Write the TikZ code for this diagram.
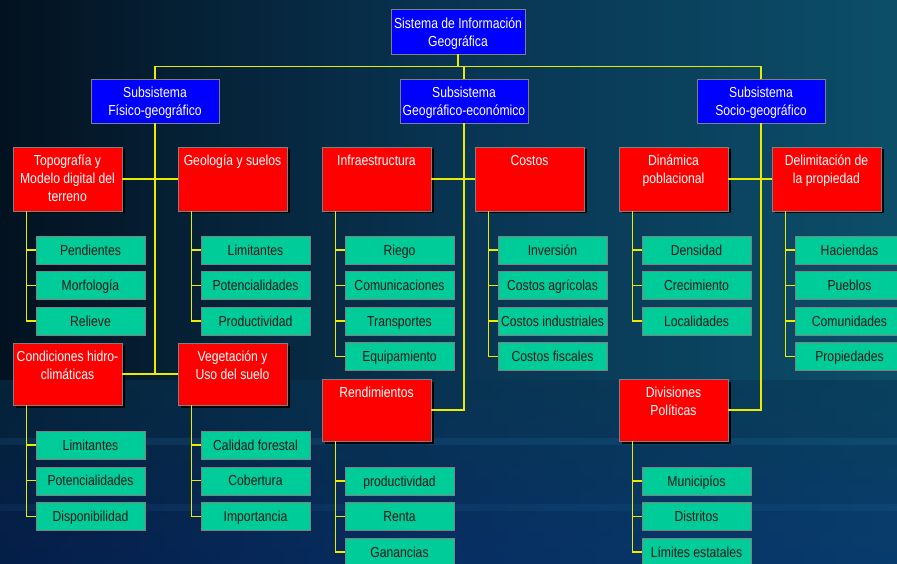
\documentclass[tikz,border=0pt]{standalone}
\usepackage{fontspec}
\setmainfont{Liberation Sans}[FakeStretch=0.84]
\usetikzlibrary{shadows}
\definecolor{sigblue}{RGB}{0,0,255}
\definecolor{sigred}{RGB}{255,0,0}
\definecolor{siggreen}{RGB}{0,204,153}
\definecolor{sigline}{RGB}{235,235,0}
\definecolor{bgdark}{RGB}{3,18,32}
\definecolor{bgmid}{RGB}{8,52,82}
\definecolor{bgteal}{RGB}{12,78,104}
\definecolor{glow}{RGB}{70,170,220}
\newcommand{\redtext}[2][52pt]{\parbox[t][#1][t]{105pt}{\centering\strut #2}}
\newcommand{\systext}[2][126pt]{\parbox[t][38pt][t]{#1}{\centering\rule{0pt}{16pt}#2}}

\begin{document}
\begin{tikzpicture}[
  x=1pt, y=-1pt,
  font=\fontsize{14.5}{18}\selectfont,
  sysbox/.style={draw=gray, fill=sigblue, text=white, minimum width=128pt, minimum height=44pt, inner xsep=1pt, inner ysep=3pt},
  topicbox/.style={draw=gray, fill=sigred, text=white, inner xsep=2pt, inner ysep=6pt, minimum width=109pt, drop shadow={shadow xshift=2.5pt, shadow yshift=-2.5pt, fill=black, opacity=1}},
  leafbox/.style={draw=gray, fill=siggreen, text=black!90, minimum width=109pt, minimum height=28pt, inner sep=1pt, text height=12.5pt, text depth=2pt},
  link/.style={draw=sigline, line width=1.2pt}
]
  % background
  \useasboundingbox (0,0) rectangle (897,564);
  \shade[left color=bgdark, right color=bgteal, middle color=bgmid] (0,0) rectangle (897,564);
  \shade[top color=bgmid, bottom color=bgmid!80!blue, opacity=0.5] (0,380) rectangle (897,564);
  \fill[glow, opacity=0.1] (0,438) rectangle (897,445);
  \fill[glow, opacity=0.07] (0,504) rectangle (897,511);

  % levels 0 and 1
  \node[sysbox, minimum width=134pt, minimum height=45pt] (sig) at (458,31.5) {\systext[132pt]{Sistema de Información\\Geográfica}};
  \node[sysbox] (fis) at (155,101) {\systext{Subsistema\\Físico-geográfico}};
  \node[sysbox] (eco) at (464,101) {\systext{Subsistema\\Geográfico-económico}};
  \node[sysbox] (soc) at (761,101) {\systext{Subsistema\\Socio-geográfico}};

  % level 2
  \node[topicbox] (topo) at (67.5,179) {\redtext{Topografía y\\Modelo digital del\\terreno}};
  \node[topicbox] (geo) at (232.5,179) {\redtext{Geología y suelos}};
  \node[topicbox] (infra) at (376.5,179) {\redtext{Infraestructura}};
  \node[topicbox] (costos) at (529.5,179) {\redtext{Costos}};
  \node[topicbox] (dinam) at (673.5,179) {\redtext{Dinámica\\poblacional}};
  \node[topicbox] (delim) at (826.5,179) {\redtext{Delimitación de\\la propiedad}};
  \node[topicbox] (cond) at (67.5,374) {\redtext[50pt]{Condiciones hidro-\\climáticas}};
  \node[topicbox] (veg) at (232.5,374) {\redtext[50pt]{Vegetación y\\Uso del suelo}};
  \node[topicbox] (rend) at (376.5,410) {\redtext[50pt]{Rendimientos}};
  \node[topicbox] (divpol) at (673.5,410) {\redtext[50pt]{Divisiones\\Políticas}};

  % level 3
  \foreach \txt [count=\i] in {Pendientes,Morfología,Relieve}
    \node[leafbox] (topo\i) at (90.5,{250+35.5*(\i-1)}) {\txt};
  \foreach \txt [count=\i] in {Limitantes,Potencialidades,Productividad}
    \node[leafbox] (geo\i) at (255.5,{250+35.5*(\i-1)}) {\txt};
  \foreach \txt [count=\i] in {Riego,Comunicaciones,Transportes,Equipamiento}
    \node[leafbox] (infra\i) at (399.5,{250+35.5*(\i-1)}) {\txt};
  \foreach \txt [count=\i] in {Inversión,Costos agrícolas,Costos industriales,Costos fiscales}
    \node[leafbox] (costos\i) at (552.5,{250+35.5*(\i-1)}) {\txt};
  \foreach \txt [count=\i] in {Densidad,Crecimiento,Localidades}
    \node[leafbox] (dinam\i) at (696.5,{250+35.5*(\i-1)}) {\txt};
  \foreach \txt [count=\i] in {Haciendas,Pueblos,Comunidades,Propiedades}
    \node[leafbox] (delim\i) at (849.5,{250+35.5*(\i-1)}) {\txt};
  \foreach \txt [count=\i] in {Limitantes,Potencialidades,Disponibilidad}
    \node[leafbox] (cond\i) at (90.5,{445+35.7*(\i-1)}) {\txt};
  \foreach \txt [count=\i] in {Calidad forestal,Cobertura,Importancia}
    \node[leafbox] (veg\i) at (255.5,{445+35.7*(\i-1)}) {\txt};
  \foreach \txt [count=\i] in {productividad,Renta,Ganancias}
    \node[leafbox] (rend\i) at (399.5,{481+35.5*(\i-1)}) {\txt};
  \foreach \txt [count=\i] in {Municipíos,Distritos,Límites estatales}
    \node[leafbox] (divpol\i) at (696.5,{481+35.5*(\i-1)}) {\txt};

  % connectors
  \coordinate (bus) at (458,66.5);
  \draw[link] (sig.south) -- (bus);
  \draw[link] (fis.north) |- (bus) -| (soc.north);
  \draw[link] (eco.north) -- (eco.north |- bus);
  \draw[link] (fis.south) -- (fis.south |- cond.east);
  \draw[link] (topo.east) -- (geo.west);
  \draw[link] (cond.east) -- (veg.west);
  \draw[link] (eco.south) |- (rend.east);
  \draw[link] (infra.east) -- (costos.west);
  \draw[link] (soc.south) |- (divpol.east);
  \draw[link] (dinam.east) -- (delim.west);
  \foreach \p/\n in {topo/3,geo/3,infra/4,costos/4,dinam/3,delim/4,cond/3,veg/3,rend/3,divpol/3} {
    \coordinate (\p-bar) at ([xshift=13.7pt]\p.south west);
    \draw[link] (\p-bar) |- (\p\n.west);
    \foreach \i in {1,...,\n}
      \draw[link] (\p-bar |- \p\i.west) -- (\p\i.west);
  }
\end{tikzpicture}
\end{document}
